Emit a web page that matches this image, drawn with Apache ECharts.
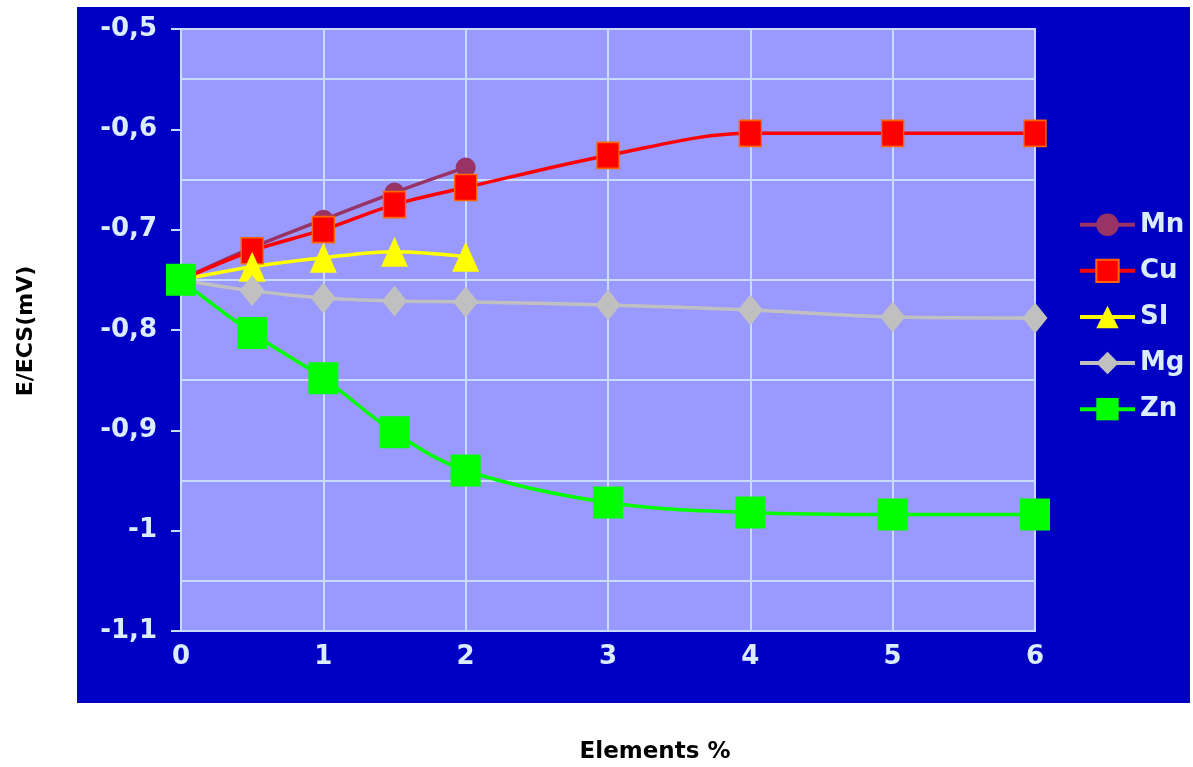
<!DOCTYPE html>
<html>
<head>
<meta charset="utf-8">
<script src="https://cdn.jsdelivr.net/npm/echarts@6/dist/echarts.min.js"></script>
<style>
html,body{margin:0;padding:0;background:#ffffff;}
#chart{width:1193px;height:767px;}
</style>
</head>
<body>
<div id="chart"></div>
<script>
// ---- data ----
const xLabels = [0, 1, 2, 3, 4, 5, 6];
const mnX = [0, 0.5, 1, 1.5, 2];
const mnY = [-0.75, -0.718, -0.69, -0.663, -0.638];
const cuX = [0, 0.5, 1, 1.5, 2, 3, 4, 5, 6];
const cuY = [-0.75, -0.721, -0.70, -0.675, -0.658, -0.626, -0.604, -0.604, -0.604];
const siX = [0, 0.5, 1, 1.5, 2];
const siY = [-0.75, -0.737, -0.728, -0.722, -0.727];
const mgX = [0, 0.5, 1, 1.5, 2, 3, 4, 5, 6];
const mgY = [-0.75, -0.761, -0.768, -0.771, -0.772, -0.775, -0.780, -0.787, -0.788];
const znX = [0, 0.5, 1, 1.5, 2, 3, 4, 5, 6];
const znY = [-0.75, -0.803, -0.848, -0.902, -0.940, -0.972, -0.982, -0.984, -0.984];
const seriesNames = ['Mn', 'Cu', 'SI', 'Mg', 'Zn'];
const yTitle = 'E/ECS(mV)';
const xTitle = 'Elements %';

function pairs(xs, ys) { return xs.map((x, i) => [x, ys[i]]); }

const light = '#dcecff';
const gridLine = '#c8dcff';
const chart = echarts.init(document.getElementById('chart'));

function mkSeries(name, data, color, symbol, size, border) {
  return {
    name: name, type: 'line', data: data, smooth: 0.35,
    symbol: symbol, symbolSize: size,
    lineStyle: { color: color, width: 3.5 },
    itemStyle: { color: color, borderColor: border || color, borderWidth: border ? 1.5 : 0 },
    emphasis: { disabled: true }
  };
}

chart.setOption({
  animation: false,
  backgroundColor: '#ffffff',
  graphic: [
    { type: 'rect', z: -10, shape: { x: 77, y: 7, width: 1113, height: 696 }, style: { fill: '#0000c4' }, silent: true },
    { type: 'text', x: 655, y: 752, style: { text: xTitle, fill: '#000', font: 'bold 23px "DejaVu Sans"', textAlign: 'center', textVerticalAlign: 'middle' } },
    { type: 'text', x: 26, y: 331, rotation: Math.PI / 2, style: { text: yTitle, fill: '#000', font: 'bold 22px "DejaVu Sans"', textAlign: 'center', textVerticalAlign: 'middle' } }
  ],
  grid: {
    left: 181, right: 158, top: 29, bottom: 136,
    show: true, backgroundColor: '#9999ff', borderColor: gridLine, borderWidth: 2
  },
  legend: {
    orient: 'vertical', left: 1073, top: 205,
    itemWidth: 55, itemHeight: 28, itemGap: 16.6,
    data: seriesNames,
    lineStyle: { width: 4 },
    textStyle: { color: light, fontSize: 26, fontWeight: 'bold', fontFamily: 'DejaVu Sans', lineHeight: 29.5 }
  },
  xAxis: {
    type: 'value', min: 0, max: 6, interval: 1,
    axisLine: { show: true, lineStyle: { color: gridLine, width: 2 } },
    axisTick: { show: false },
    splitLine: { show: true, lineStyle: { color: gridLine, width: 2 } },
    axisLabel: {
      color: light, fontSize: 26, fontWeight: 'bold', fontFamily: 'DejaVu Sans', margin: 13,
      formatter: function (v) { return xLabels.indexOf(Math.round(v)) >= 0 ? String(Math.round(v)) : ''; }
    }
  },
  yAxis: {
    type: 'value', min: -1.1, max: -0.5, interval: 0.1,
    axisLine: { show: true, lineStyle: { color: gridLine, width: 2 } },
    axisTick: { show: true, inside: false, length: 10, lineStyle: { color: gridLine, width: 2 } },
    splitLine: { show: false },
    minorTick: { show: false, splitNumber: 2 },
    minorSplitLine: { show: true, lineStyle: { color: gridLine, width: 2 } },
    axisLabel: {
      color: light, fontSize: 26, fontWeight: 'bold', fontFamily: 'DejaVu Sans', margin: 24,
      formatter: function (v) { return String(Math.round(v * 10) / 10).replace('.', ','); }
    }
  },
  series: [
    mkSeries('Mn', pairs(mnX, mnY), '#993366', 'circle', 20),
    mkSeries('Cu', pairs(cuX, cuY), '#ff0000', 'rect', [22, 26], '#ff6600'),
    mkSeries('SI', pairs(siX, siY), '#ffff00', 'triangle', [27, 30]),
    mkSeries('Mg', pairs(mgX, mgY), '#c0c0c0', 'diamond', [25, 31]),
    mkSeries('Zn', pairs(znX, znY), '#00ff00', 'rect', [30, 32])
  ]
});
</script>
</body>
</html>
